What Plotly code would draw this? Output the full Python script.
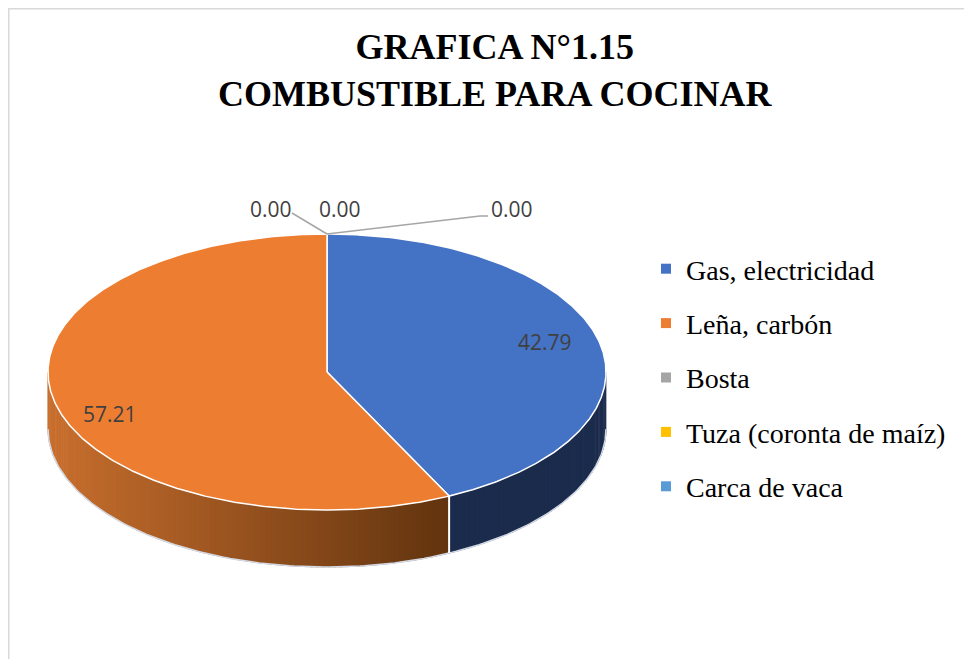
import numpy as np
import plotly.graph_objects as go

# ---------------- data ----------------
categories = ["Gas, electricidad", "Leña, carbón", "Bosta",
              "Tuza (coronta de maíz)", "Carca de vaca"]
values = [42.79, 57.21, 0.00, 0.00, 0.00]
title_lines = ["GRAFICA N°1.15", "COMBUSTIBLE PARA COCINAR"]

# ---------------- style ----------------
colors = ["#4472C4", "#ED7D31", "#A5A5A5", "#FFC000", "#5B9BD5"]
side_left = ["#1B2B4C", "#C96F2E", "#7A7A7A", "#BF9000", "#41719C"]
side_right = ["#1B2B4C", "#62340F", "#5A5A5A", "#8F6C00", "#2E5070"]
PAGE_W, PAGE_H = 972, 659
OFF = 8                      # page body margin
W, H = PAGE_W - OFF, PAGE_H - OFF
CX, CY, RX, RY, DEPTH = 327, 372, 279, 138, 57
LABEL_R = 0.8
main_label_shift = [(0, -5), (0, 17)]
zero_label_offsets = [(-56, -25), (13, -25), (185, -25)]
zero_leaders = [[(0, 0), (-35, -21)], None, [(0, 0), (153, -18), (161, -18)]]


def pt(theta, dy=0.0):
    t = np.radians(theta)
    return CX + RX * np.sin(t), CY - RY * np.cos(t) + dy


def hex2rgb(h):
    h = h.lstrip("#")
    return np.array([int(h[i:i + 2], 16) for i in (0, 2, 4)], dtype=float)


total = sum(values)
spans = []
acc = 0.0
for v in values:
    s = acc / total * 360
    acc += v
    spans.append((s, acc / total * 360))

fig = go.Figure()

# ---- side walls (front visible part: 90..270 deg) ----
for i, (s, e) in enumerate(spans):
    lo, hi = max(s, 90), min(e, 270)
    if hi <= lo:
        continue
    n = max(2, int((hi - lo) / 1.2))
    edges = np.linspace(lo, hi, n + 1)
    xl, _ = pt(hi)
    xr, _ = pt(lo)
    cl, cr = hex2rgb(side_left[i]), hex2rgb(side_right[i])
    for k in range(n):
        th = np.linspace(edges[k], edges[k + 1] + 0.3 if k < n - 1 else edges[k + 1], 6)
        xt, yt = pt(th)
        xb, yb = pt(th[::-1], DEPTH)
        xm = pt((edges[k] + edges[k + 1]) / 2)[0]
        f = 0 if xr == xl else (xm - xl) / (xr - xl)
        c = cl + (cr - cl) * f
        col = "rgb(%d,%d,%d)" % tuple(c)
        fig.add_trace(go.Scatter(
            x=np.concatenate([xt, xb]), y=np.concatenate([yt, yb]),
            fill="toself", fillcolor=col, mode="lines",
            line=dict(color=col, width=0.6),
            hoverinfo="skip", showlegend=False))

# bottom edge outline
th = np.linspace(90, 270, 200)
bx, by = pt(th, DEPTH)
fig.add_trace(go.Scatter(x=bx, y=by, mode="lines",
                         line=dict(color="#D3DAE6", width=1.5),
                         hoverinfo="skip", showlegend=False))
# vertical separators on the wall
for s, e in spans:
    if 90 < s < 270:
        x0, y0 = pt(s)
        x1, y1 = pt(s, DEPTH)
        fig.add_trace(go.Scatter(x=[x0, x1], y=[y0, y1], mode="lines",
                                 line=dict(color="white", width=2),
                                 hoverinfo="skip", showlegend=False))

# ---- top face ----
for i, (s, e) in enumerate(spans):
    if e - s <= 0:
        continue
    th = np.linspace(s, e, max(3, int(e - s) * 2))
    xs, ys = pt(th)
    fig.add_trace(go.Scatter(
        x=np.concatenate([[CX], xs, [CX]]), y=np.concatenate([[CY], ys, [CY]]),
        fill="toself", fillcolor=colors[i], mode="lines",
        line=dict(color="white", width=1.5),
        name=categories[i], text=["%.2f" % values[i]] * (len(xs) + 2),
        hoverinfo="name+text", showlegend=False))

# ---- data labels ----
label_font = dict(family="Open Sans", size=21, color="#404040")
zi = 0
for i, (s, e) in enumerate(spans):
    if values[i] > 0:
        mid = (s + e) / 2
        t = np.radians(mid)
        lx = CX + RX * LABEL_R * np.sin(t) + main_label_shift[i][0]
        ly = CY - RY * LABEL_R * np.cos(t) + main_label_shift[i][1]
        fig.add_annotation(x=lx, y=ly, text="%.2f" % values[i], showarrow=False,
                           font=label_font, xref="x", yref="y")
    else:
        ax, ay = pt(s)
        ox, oy = zero_label_offsets[zi]
        fig.add_annotation(x=ax + ox, y=ay + oy, text="%.2f" % values[i],
                           showarrow=False, font=label_font, xref="x", yref="y")
        ld = zero_leaders[zi]
        if ld:
            fig.add_trace(go.Scatter(x=[ax + p[0] for p in ld], y=[ay + p[1] for p in ld],
                                     mode="lines", line=dict(color="#A6A6A6", width=1.5),
                                     hoverinfo="skip", showlegend=False))
        zi += 1

# ---- legend entries ----
for c, col in zip(categories, colors):
    fig.add_trace(go.Scatter(x=[None], y=[None], mode="markers",
                             marker=dict(symbol="square", size=10, color=col),
                             name=c, legendgroup=c, showlegend=True))

# ---- title ----
fig.add_annotation(x=495, y=70, xref="x", yref="y",
                   text="<b>" + "<br>".join(title_lines) + "</b>",
                   showarrow=False,
                   font=dict(family="Liberation Serif", size=36, color="black"))

fig.update_layout(
    width=W, height=H,
    margin=dict(l=0, r=0, t=0, b=0),
    paper_bgcolor="white", plot_bgcolor="white",
    xaxis=dict(range=[OFF, PAGE_W], visible=False, fixedrange=True),
    yaxis=dict(range=[PAGE_H, OFF], visible=False, fixedrange=True),
    showlegend=True,
    legend=dict(x=(646 - OFF) / W, y=1 - (244 - OFF) / H, xanchor="left", yanchor="top",
                font=dict(family="Liberation Serif", size=28, color="black"),
                tracegroupgap=15, bgcolor="rgba(0,0,0,0)"),
    shapes=[
        dict(type="line", xref="x", yref="y", x0=OFF + 0.8, x1=OFF + 0.8, y0=OFF, y1=PAGE_H,
             line=dict(color="#D9D9D9", width=1.5)),
        dict(type="line", xref="x", yref="y", x0=OFF, x1=PAGE_W, y0=OFF + 0.8, y1=OFF + 0.8,
             line=dict(color="#D9D9D9", width=1.5)),
    ],
)

fig.write_html("out.html")
